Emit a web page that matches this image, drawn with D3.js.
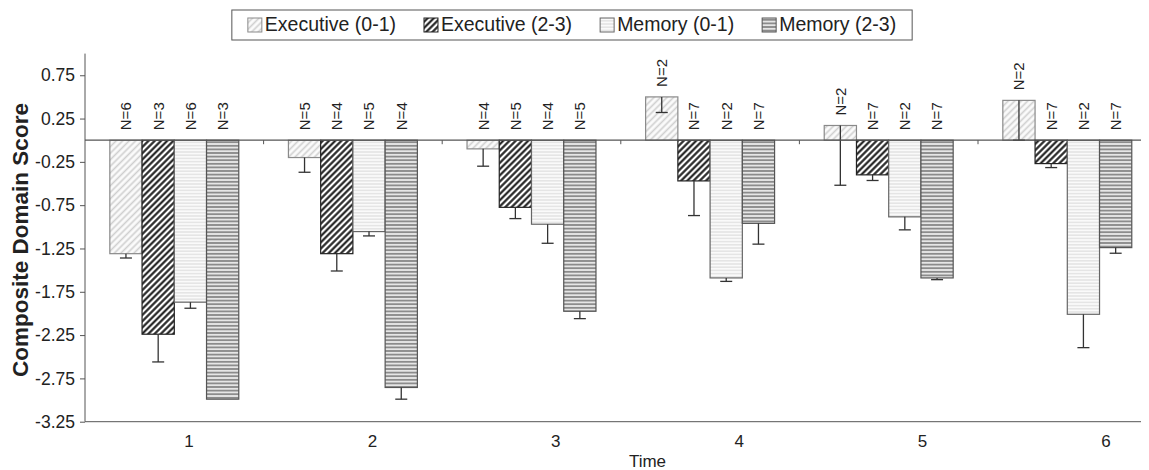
<!DOCTYPE html>
<html>
<head>
<meta charset="utf-8">
<script src="https://cdn.jsdelivr.net/npm/d3@7"></script>
<style>
  body { margin: 0; background: #fff; }
  text { font-family: "Liberation Sans", Arial, Helvetica, sans-serif; fill: #222; }
</style>
</head>
<body>
<script>
// chart data
var times = ["1", "2", "3", "4", "5", "6"];
var series = ["Executive (0-1)", "Executive (2-3)", "Memory (0-1)", "Memory (2-3)"];

var exec01 = [-1.31, -0.20, -0.10, 0.50, 0.17, 0.46];
var exec23 = [-2.24, -1.31, -0.775, -0.47, -0.40, -0.27];
var mem01 = [-1.87, -1.055, -0.97, -1.59, -0.885, -2.01];
var mem23 = [-2.99, -2.855, -1.975, -0.96, -1.59, -1.24];

// minus error bars
var exec01Err = [0.05, 0.17, 0.20, 0.18, 0.69, 0.46];
var exec23Err = [0.32, 0.20, 0.13, 0.40, 0.065, 0.046];
var mem01Err = [0.07, 0.05, 0.22, 0.04, 0.15, 0.385];
var mem23Err = [0, 0.135, 0.085, 0.24, 0.02, 0.065];

// sample sizes
var nExec01 = [6, 5, 4, 2, 2, 2];
var nExec23 = [3, 4, 5, 7, 7, 7];
var nMem01 = [6, 5, 4, 2, 2, 2];
var nMem23 = [3, 4, 5, 7, 7, 7];

var yTicks = [0.75, 0.25, -0.25, -0.75, -1.25, -1.75, -2.25, -2.75, -3.25];

//SETUP
var w = 1149, h = 470;
var plotLeft = 85, plotTop = 53.6, plotBottom = 421.7, plotRight = 1141;

var svg = d3.select("body").append("svg")
  .attr("width", w)
  .attr("height", h);

var defs = svg.append("defs");

// hatch patterns
function hatch(id, size, angle, stroke, sw, bg) {
  var p = defs.append("pattern")
    .attr("id", id)
    .attr("patternUnits", "userSpaceOnUse")
    .attr("width", size)
    .attr("height", size)
    .attr("patternTransform", "rotate(" + angle + ")");
  p.append("rect").attr("width", size).attr("height", size).attr("fill", bg);
  p.append("line")
    .attr("x1", size / 2).attr("y1", 0)
    .attr("x2", size / 2).attr("y2", size)
    .attr("stroke", stroke)
    .attr("stroke-width", sw);
}
hatch("p0", 4.6, 45, "#cfcfcf", 1.6, "#fbfbfb");
hatch("p1", 4.4, 45, "#1a1a1a", 2.1, "#ffffff");
hatch("p2", 3.2, 90, "#e2e2e2", 1.4, "#fafafa");
hatch("p3", 3.6, 90, "#808080", 1.6, "#e6e6e6");

var fills = ["url(#p0)", "url(#p1)", "url(#p2)", "url(#p3)"];
var borders = ["#8a8a8a", "#222222", "#666666", "#555555"];

//SCALES
var y = d3.scaleLinear().domain([-3.25, 1]).range([plotBottom, plotTop]);
var x = d3.scaleBand().domain(times).range([plotLeft, 1156.6])
  .paddingInner(0.278).paddingOuter(0.139);
var xs = d3.scaleBand().domain(series).range([0, x.bandwidth()]);
var labelX = d3.scalePoint().domain(times).range([189, 1106]);

var values = [exec01, exec23, mem01, mem23];
var errs = [exec01Err, exec23Err, mem01Err, mem23Err];
var ns = [nExec01, nExec23, nMem01, nMem23];

var data = [];
times.forEach(function (t, i) {
  series.forEach(function (s, j) {
    data.push({ t: t, s: s, j: j, v: values[j][i], e: errs[j][i], n: ns[j][i] });
  });
});

//AXES
var yAxis = svg.append("g")
  .attr("transform", "translate(" + plotLeft + ",0)")
  .call(d3.axisLeft(y).tickValues(yTicks).tickSize(5).tickSizeOuter(0).tickPadding(5)
    .tickFormat(function (d) { return d.toFixed(2); }));
yAxis.select(".domain").remove();
yAxis.selectAll("line").attr("stroke", "#555");
yAxis.selectAll("text").style("font-size", "17.5px").attr("fill", "#222");

svg.append("line")
  .attr("x1", plotLeft).attr("x2", plotLeft)
  .attr("y1", plotTop).attr("y2", plotBottom)
  .attr("stroke", "#555");

svg.append("line")
  .attr("x1", plotLeft).attr("x2", plotRight)
  .attr("y1", y(-3.25)).attr("y2", y(-3.25))
  .attr("stroke", "#555");

//BARS
var g = svg.append("g");
g.selectAll("rect.bar")
  .data(data)
  .join("rect")
  .attr("class", "bar")
  .attr("x", function (d) { return x(d.t) + xs(d.s); })
  .attr("width", xs.bandwidth())
  .attr("y", function (d) { return y(Math.max(0, d.v)); })
  .attr("height", function (d) { return Math.abs(y(d.v) - y(0)); })
  .attr("fill", function (d) { return fills[d.j]; })
  .attr("stroke", function (d) { return borders[d.j]; })
  .attr("stroke-width", 1.2);

// error bars (minus direction)
var eb = g.selectAll("g.err")
  .data(data.filter(function (d) { return d.e > 0; }))
  .join("g")
  .attr("class", "err")
  .attr("transform", function (d) {
    return "translate(" + (x(d.t) + xs(d.s) + xs.bandwidth() / 2) + ",0)";
  });
eb.append("line")
  .attr("y1", function (d) { return y(d.v); })
  .attr("y2", function (d) { return y(d.v - d.e); })
  .attr("stroke", "#333").attr("stroke-width", 1.3);
eb.append("line")
  .attr("x1", -6).attr("x2", 6)
  .attr("y1", function (d) { return y(d.v - d.e); })
  .attr("y2", function (d) { return y(d.v - d.e); })
  .attr("stroke", "#333").attr("stroke-width", 1.3);

// zero line with category ticks
svg.append("line")
  .attr("x1", plotLeft).attr("x2", plotRight)
  .attr("y1", y(0)).attr("y2", y(0))
  .attr("stroke", "#555").attr("stroke-width", 1.2);
svg.selectAll("line.ctick")
  .data(times.slice(0, -1))
  .join("line")
  .attr("class", "ctick")
  .attr("x1", function (d) { return x(d) + x.bandwidth() + x.step() * 0.139; })
  .attr("x2", function (d) { return x(d) + x.bandwidth() + x.step() * 0.139; })
  .attr("y1", y(0)).attr("y2", y(0) + 4)
  .attr("stroke", "#555");

// N labels
g.selectAll("text.n")
  .data(data)
  .join("text")
  .attr("class", "n")
  .attr("transform", function (d) {
    var cx = x(d.t) + xs(d.s) + xs.bandwidth() / 2;
    var cy = y(Math.max(0, d.v)) - 10;
    return "translate(" + cx + "," + cy + ") rotate(-90)";
  })
  .attr("dy", "0.36em")
  .style("font-size", "15px")
  .text(function (d) { return "N=" + d.n; });

// category labels
svg.selectAll("text.cat")
  .data(times)
  .join("text")
  .attr("class", "cat")
  .attr("x", function (d) { return labelX(d); })
  .attr("y", 447)
  .attr("text-anchor", "middle")
  .style("font-size", "17px")
  .text(function (d) { return d; });

svg.append("text")
  .attr("x", (labelX("1") + labelX("6")) / 2)
  .attr("y", 467)
  .attr("text-anchor", "middle")
  .style("font-size", "17px")
  .text("Time");

svg.append("text")
  .attr("transform", "translate(28,240) rotate(-90)")
  .attr("text-anchor", "middle")
  .style("font-size", "22.5px")
  .style("font-weight", "bold")
  .text("Composite Domain Score");

//LEGEND
var leg = svg.append("g");
var legBox = leg.append("rect")
  .attr("y", 10).attr("height", 30)
  .attr("fill", "#fff").attr("stroke", "#555");
var cursor = 0;
var offsets = [];
var items = leg.selectAll("g.item")
  .data(series)
  .join("g")
  .attr("class", "item");
items.append("rect")
  .attr("y", 18).attr("width", 14).attr("height", 14)
  .attr("fill", function (d, i) { return fills[i]; })
  .attr("stroke", function (d, i) { return borders[i]; });
items.append("text")
  .attr("x", 17).attr("y", 31)
  .style("font-size", "19.5px")
  .text(function (d) { return d; });
items.each(function () {
  var tw = d3.select(this).select("text").node().getComputedTextLength();
  offsets.push(cursor);
  cursor += 17 + tw + 28;
});
var legW = cursor - 28;
var legX = 572 - legW / 2;
items.attr("transform", function (d, i) {
  return "translate(" + (legX + offsets[i]) + ",0)";
});
legBox.attr("x", legX - 16).attr("width", legW + 32);
</script>
</body>
</html>
